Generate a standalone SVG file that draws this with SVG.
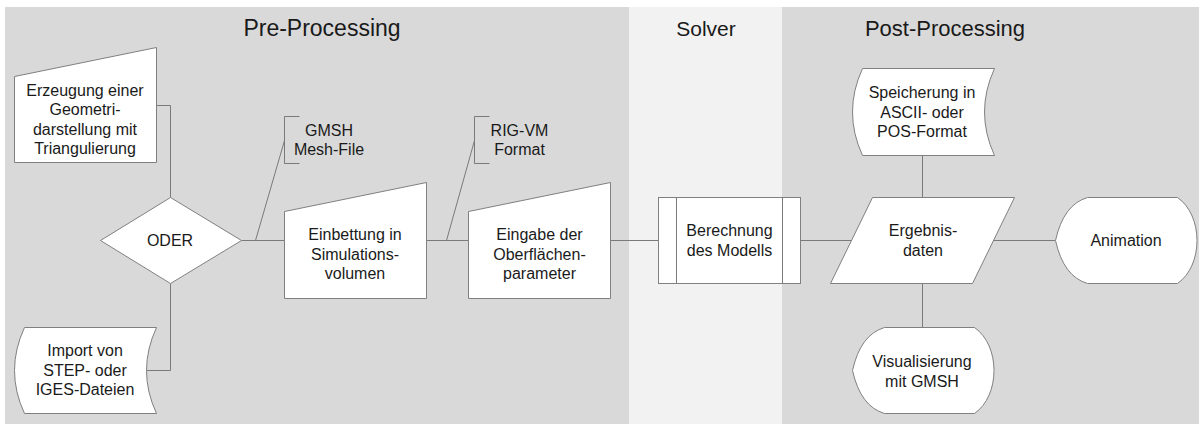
<svg xmlns="http://www.w3.org/2000/svg" width="1199" height="424" viewBox="0 0 1199 424">
<style>
.shape{fill:#ffffff;stroke:#808080;stroke-width:1}
.conn{fill:none;stroke:#7a7a7a;stroke-width:1}
.t{font-family:"Liberation Sans",Arial,sans-serif;font-size:16px;fill:#1a1a1a;text-anchor:middle}
.title{font-family:"Liberation Sans",Arial,sans-serif;font-size:22px;fill:#1a1a1a;text-anchor:middle}
</style>
<rect x="0" y="0" width="1199" height="424" fill="#ffffff"/>
<g id="lanes">
<rect x="5" y="7" width="624" height="417" fill="#d9d9d9"/>
<rect x="629" y="7" width="153" height="417" fill="#f2f2f2"/>
<rect x="782" y="7" width="417" height="417" fill="#d9d9d9"/>
<text class="title" x="322" y="36" style="font-size:23px">Pre-Processing</text>
<text class="title" x="706" y="36" style="font-size:21px">Solver</text>
<text class="title" x="945" y="36">Post-Processing</text>
</g>
<g id="connectors" transform="translate(0.5,0.5)">
<polyline class="conn" points="156,105 170,105 170,197"/>
<polyline class="conn" points="170,283 170,370 146,370"/>
<line class="conn" x1="241" y1="240" x2="284" y2="240"/>
<line class="conn" x1="255" y1="240" x2="284" y2="140"/>
<line class="conn" x1="426" y1="240" x2="468" y2="240"/>
<line class="conn" x1="446" y1="240" x2="474" y2="140"/>
<line class="conn" x1="610" y1="240" x2="658" y2="240"/>
<line class="conn" x1="800" y1="240" x2="851" y2="240"/>
<line class="conn" x1="993" y1="240" x2="1055" y2="240"/>
<line class="conn" x1="922" y1="155" x2="922" y2="197"/>
<line class="conn" x1="922" y1="283" x2="922" y2="327"/>
</g>
<g id="n-erzeugung">
<polygon class="shape" transform="translate(0.5,0.5)" points="14,76 156,47 156,162 14,162"/>
<text class="t" x="85" y="95.5">Erzeugung einer</text>
<text class="t" x="85" y="115">Geometri-</text>
<text class="t" x="85" y="134.5">darstellung mit</text>
<text class="t" x="85" y="154">Triangulierung</text>
</g>
<g id="n-import">
<path class="shape" transform="translate(0.5,0.5)" d="M24,327 L156,327 Q136,370 156,413 L24,413 Q4,370 24,327 Z"/>
<text class="t" x="85" y="356">Import von</text>
<text class="t" x="85" y="375.5">STEP- oder</text>
<text class="t" x="85" y="395">IGES-Dateien</text>
</g>
<g id="n-oder">
<polygon class="shape" transform="translate(0.5,0.5)" points="170,197 241,240 170,283 100,240"/>
<text class="t" x="170" y="246">ODER</text>
</g>
<g id="a-gmsh">
<path class="conn" transform="translate(0.5,0.5)" d="M299,116 L284,116 L284,163 L299,163"/>
<text class="t" x="329" y="136">GMSH</text>
<text class="t" x="329" y="155">Mesh-File</text>
</g>
<g id="n-einbettung">
<polygon class="shape" transform="translate(0.5,0.5)" points="284,211 426,182 426,298 284,298"/>
<text class="t" x="355" y="240">Einbettung in</text>
<text class="t" x="355" y="259.5">Simulations-</text>
<text class="t" x="355" y="279">volumen</text>
</g>
<g id="a-rigvm">
<path class="conn" transform="translate(0.5,0.5)" d="M489,116 L474,116 L474,163 L489,163"/>
<text class="t" x="519.5" y="136">RIG-VM</text>
<text class="t" x="519.5" y="155">Format</text>
</g>
<g id="n-eingabe">
<polygon class="shape" transform="translate(0.5,0.5)" points="468,211 610,182 610,298 468,298"/>
<text class="t" x="539.5" y="240">Eingabe der</text>
<text class="t" x="539.5" y="259.5">Oberflächen-</text>
<text class="t" x="539.5" y="279">parameter</text>
</g>
<g id="n-berechnung">
<g transform="translate(0.5,0.5)">
<rect class="shape" x="658" y="197" width="142" height="86"/>
<line class="conn" x1="676" y1="197" x2="676" y2="283"/>
<line class="conn" x1="782" y1="197" x2="782" y2="283"/>
</g>
<text class="t" x="729.5" y="236">Berechnung</text>
<text class="t" x="729.5" y="255.5">des Modells</text>
</g>
<g id="n-ergebnis">
<polygon class="shape" transform="translate(0.5,0.5)" points="872,197 1014,197 972,283 830,283"/>
<text class="t" x="923" y="236">Ergebnis-</text>
<text class="t" x="923" y="255.5">daten</text>
</g>
<g id="n-speicherung">
<path class="shape" transform="translate(0.5,0.5)" d="M862,68 L994,68 Q974,111.5 994,155 L862,155 Q842,111.5 862,68 Z"/>
<text class="t" x="922" y="98">Speicherung in</text>
<text class="t" x="922" y="117.5">ASCII- oder</text>
<text class="t" x="922" y="137">POS-Format</text>
</g>
<g id="n-animation">
<path class="shape" transform="translate(0.5,0.5)" d="M1055,240 Q1063,204 1087,197 L1177,197 C1203,215 1203,265 1177,283 L1087,283 Q1063,276 1055,240 Z"/>
<text class="t" x="1126" y="245.5">Animation</text>
</g>
<g id="n-visualisierung">
<path class="shape" transform="translate(0.5,0.5)" d="M852,370 Q860,334 884,327 L974,327 C1000,345 1000,395 974,413 L884,413 Q860,406 852,370 Z"/>
<text class="t" x="922" y="367">Visualisierung</text>
<text class="t" x="922" y="386.5">mit GMSH</text>
</g>
</svg>
